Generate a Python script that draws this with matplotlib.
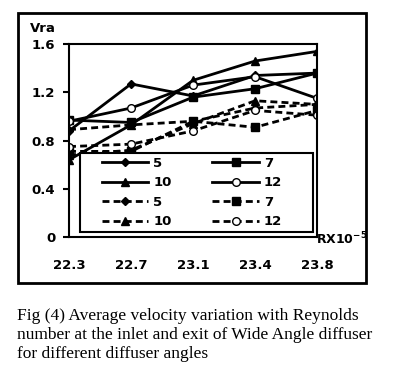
import numpy as np
import matplotlib.pyplot as plt
from matplotlib.patches import Rectangle

re_labels = ['22.3', '22.7', '23.1', '23.4', '23.8']
# inlet (solid) and exit (dashed) average velocity for each diffuser angle
inlet_5 = [0.88, 1.27, 1.17, 1.34, 1.36]
inlet_7 = [0.97, 0.95, 1.16, 1.23, 1.36]
inlet_10 = [0.64, 0.93, 1.30, 1.46, 1.54]
inlet_12 = [0.96, 1.07, 1.26, 1.33, 1.15]
exit_5 = [0.89, 0.93, 0.96, 1.07, 1.10]
exit_7 = [0.71, 0.71, 0.96, 0.91, 1.05]
exit_10 = [0.68, 0.72, 0.94, 1.13, 1.10]
exit_12 = [0.75, 0.77, 0.88, 1.05, 1.01]

x = np.arange(len(re_labels))
fig = plt.figure(figsize=(4.06, 3.84), dpi=100)
ax = fig.add_axes([0.170, 0.383, 0.611, 0.502])

solid = dict(color='black', lw=2, ls='-')
dash = dict(color='black', lw=2, ls=(0, (2.5, 1.5)))
h = {}
h['s5'], = ax.plot(x, inlet_5, marker='D', ms=4.5, label='5', **solid)
h['s7'], = ax.plot(x, inlet_7, marker='s', ms=6, label='7', **solid)
h['s10'], = ax.plot(x, inlet_10, marker='^', ms=6, label='10', **solid)
h['s12'], = ax.plot(x, inlet_12, marker='o', ms=5.5, mfc='white', label='12', **solid)
h['d5'], = ax.plot(x, exit_5, marker='D', ms=4.5, label='5', **dash)
h['d7'], = ax.plot(x, exit_7, marker='s', ms=6, label='7', **dash)
h['d10'], = ax.plot(x, exit_10, marker='^', ms=6, label='10', **dash)
h['d12'], = ax.plot(x, exit_12, marker='o', ms=5.5, mfc='white', label='12', **dash)

ax.set_xlim(0, 4)
ax.set_ylim(0, 1.6)
ax.set_yticks([0, 0.4, 0.8, 1.2, 1.6])
ax.set_yticklabels(['0', '0.4', '0.8', '1.2', '1.6'])
ax.set_xticks(x)
ax.set_xticklabels(re_labels)
ax.tick_params(axis='x', length=0, pad=16, labelsize=9.5)
ax.tick_params(axis='y', length=4, width=1.5, pad=6, labelsize=9.5)
for lab in ax.get_xticklabels() + ax.get_yticklabels():
    lab.set_fontweight('bold')
for s in ax.spines.values():
    s.set_linewidth(1.5)

# legend box drawn separately so the entries can sit where they do in the original
ax.add_patch(Rectangle((0.044, 0.026), 0.94, 0.41, transform=ax.transAxes,
                       facecolor='white', edgecolor='black', lw=1.5, zorder=4))
order = ['s5', 's10', 'd5', 'd10', 's7', 's12', 'd7', 'd12']
leg = ax.legend([h[k] for k in order], [h[k].get_label() for k in order],
                ncol=2, loc='upper left', bbox_to_anchor=(0.133, 0.417),
                frameon=False, handlelength=3.5, handletextpad=0.38,
                columnspacing=3.1, labelspacing=0.5, borderpad=0,
                borderaxespad=0, prop={'weight': 'bold', 'size': 9.5})
leg.set_zorder(5)

fig.text(30 / 406, 1 - 29 / 384, 'Vra', fontsize=9.5, fontweight='bold', va='center')
fig.text(316 / 406, 1 - 239 / 384, r'RX10$^{\mathbf{-5}}$', fontsize=9,
         fontweight='bold', va='center')

fig.patches.append(Rectangle((18 / 406, 1 - 283 / 384), 348 / 406, 270 / 384,
                             transform=fig.transFigure, fill=False,
                             edgecolor='black', lw=2))

fig.text(17 / 406, 1 - 335 / 384,
         'Fig (4) Average velocity variation with Reynolds\n'
         'number at the inlet and exit of Wide Angle diffuser\n'
         'for different diffuser angles',
         family='Liberation Serif', fontsize=12.5, va='center', linespacing=1.25)

fig.savefig('out.png', dpi=100)
